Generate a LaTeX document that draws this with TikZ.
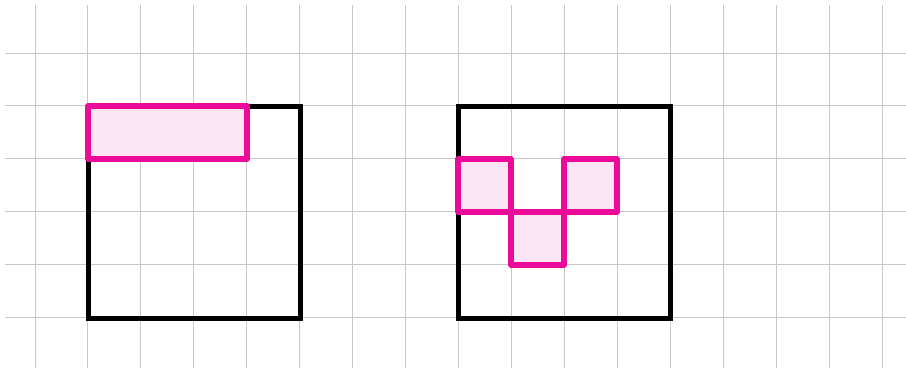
\documentclass[tikz,border=0pt]{standalone}
\usepackage{tikz}
\definecolor{gridgray}{HTML}{C8C8C8}
\definecolor{pinkline}{HTML}{EC0A9B}
\definecolor{pinkfill}{HTML}{FCE5F4}
\begin{document}
\begin{tikzpicture}[x=1pt,y=-1pt,
  gridline/.style={draw=gridgray,line width=1pt},
  bigsquare/.style={draw=black,line width=5pt,line join=miter,line cap=rect},
  cell/.style={draw=pinkline,fill=pinkfill,line width=5.5pt,line join=round}]
\useasboundingbox[fill=white] (0,0) rectangle (906,368);
\foreach \k in {0,...,16} {
  \draw[gridline] ({35+52.94*\k},5) -- ({35+52.94*\k},368);
}
\foreach \k in {0,...,5} {
  \draw[gridline] (5,{53+52.94*\k}) -- (906,{53+52.94*\k});
}
% left figure
\draw[bigsquare] (88,106) rectangle (300,318);
\draw[cell] (88,106) rectangle (247,159);
% right figure
\draw[bigsquare] (458,106) rectangle (670,318);
\draw[cell] (458,159) rectangle (511,212);
\draw[cell] (511,212) rectangle (564,265);
\draw[cell] (564,159) rectangle (617,212);
\end{tikzpicture}
\end{document}
